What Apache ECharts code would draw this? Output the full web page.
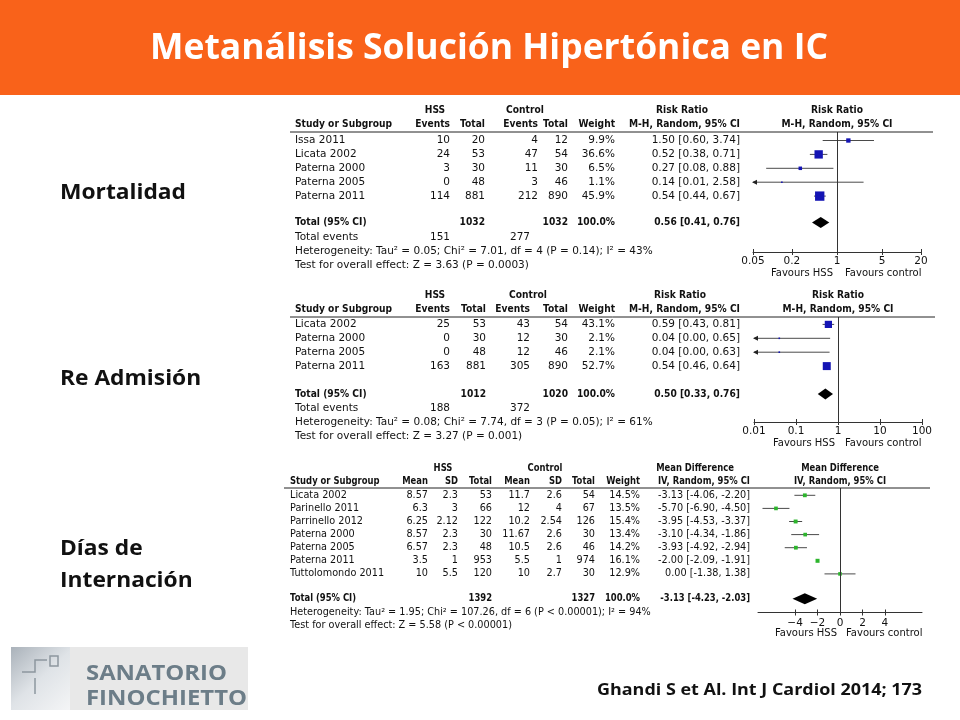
<!DOCTYPE html>
<html><head><meta charset="utf-8">
<script src="https://cdn.jsdelivr.net/npm/echarts@6/dist/echarts.min.js"></script>
<style>html,body{margin:0;padding:0;background:#fff}#c{width:960px;height:720px}</style>
</head><body><div id="c"></div>
<script>
// ---------------- DATA ----------------
const titleText = 'Metanálisis Solución Hipertónica en IC';
const sectionLabels = ['Mortalidad', 'Re Admisión', 'Días de', 'Internación'];
const citationText = 'Ghandi S et Al. Int J Cardiol 2014; 173';
const logoLines = ['SANATORIO', 'FINOCHIETTO'];

// Plot 1: Mortalidad (Risk Ratio)
const studies1 = ['Issa 2011', 'Licata 2002', 'Paterna 2000', 'Paterna 2005', 'Paterna 2011'];
const hssEvents1 = [10, 24, 3, 0, 114];
const hssTotal1 = [20, 53, 30, 48, 881];
const ctrlEvents1 = [4, 47, 11, 3, 212];
const ctrlTotal1 = [12, 54, 30, 46, 890];
const weight1 = [9.9, 36.6, 6.5, 1.1, 45.9];
const est1 = [1.50, 0.52, 0.27, 0.14, 0.54];
const lo1 = [0.60, 0.38, 0.08, 0.01, 0.44];
const hi1 = [3.74, 0.71, 0.88, 2.58, 0.67];
const totalN1 = [1032, 1032];
const totalEst1 = [0.56, 0.41, 0.76];
const totalEvents1 = [151, 277];
const het1 = 'Heterogeneity: Tau² = 0.05; Chi² = 7.01, df = 4 (P = 0.14); I² = 43%';
const test1 = 'Test for overall effect: Z = 3.63 (P = 0.0003)';
const ticks1 = [0.05, 0.2, 1, 5, 20];

// Plot 2: Re Admisión (Risk Ratio)
const studies2 = ['Licata 2002', 'Paterna 2000', 'Paterna 2005', 'Paterna 2011'];
const hssEvents2 = [25, 0, 0, 163];
const hssTotal2 = [53, 30, 48, 881];
const ctrlEvents2 = [43, 12, 12, 305];
const ctrlTotal2 = [54, 30, 46, 890];
const weight2 = [43.1, 2.1, 2.1, 52.7];
const est2 = [0.59, 0.04, 0.04, 0.54];
const lo2 = [0.43, 0.00, 0.00, 0.46];
const hi2 = [0.81, 0.65, 0.63, 0.64];
const totalN2 = [1012, 1020];
const totalEst2 = [0.50, 0.33, 0.76];
const totalEvents2 = [188, 372];
const het2 = 'Heterogeneity: Tau² = 0.08; Chi² = 7.74, df = 3 (P = 0.05); I² = 61%';
const test2 = 'Test for overall effect: Z = 3.27 (P = 0.001)';
const ticks2 = [0.01, 0.1, 1, 10, 100];

// Plot 3: Días de Internación (Mean Difference)
const studies3 = ['Licata 2002', 'Parinello 2011', 'Parrinello 2012', 'Paterna 2000', 'Paterna 2005', 'Paterna 2011', 'Tuttolomondo 2011'];
const hssMean3 = [8.57, 6.3, 6.25, 8.57, 6.57, 3.5, 10];
const hssSD3 = [2.3, 3, 2.12, 2.3, 2.3, 1, 5.5];
const hssTotal3 = [53, 66, 122, 30, 48, 953, 120];
const ctrlMean3 = [11.7, 12, 10.2, 11.67, 10.5, 5.5, 10];
const ctrlSD3 = [2.6, 4, 2.54, 2.6, 2.6, 1, 2.7];
const ctrlTotal3 = [54, 67, 126, 30, 46, 974, 30];
const weight3 = [14.5, 13.5, 15.4, 13.4, 14.2, 16.1, 12.9];
const est3 = [-3.13, -5.70, -3.95, -3.10, -3.93, -2.00, 0.00];
const lo3 = [-4.06, -6.90, -4.53, -4.34, -4.92, -2.09, -1.38];
const hi3 = [-2.20, -4.50, -3.37, -1.86, -2.94, -1.91, 1.38];
const totalN3 = [1392, 1327];
const totalEst3 = [-3.13, -4.23, -2.03];
const het3 = 'Heterogeneity: Tau² = 1.95; Chi² = 107.26, df = 6 (P < 0.00001); I² = 94%';
const test3 = 'Test for overall effect: Z = 5.58 (P < 0.00001)';
const ticks3 = [-4, -2, 0, 2, 4];

// ---------------- LAYOUT ----------------
const TF = '"DejaVu Sans", sans-serif';
const HF = '"Open Sans", sans-serif';
const BLUE = '#1414b4', GREEN = '#2db52d', CIC = '#4a4a4a', AX = '#333';

const L1 = {fs: 10.5, rowY0: 140.5, dy: 13.9, totalRow: 5.9, top: 132, axisY: 252, left: 753, width: 168,
  min: Math.log10(0.05), max: Math.log10(20), lineX: [290, 933], h1: 110, h2: 124,
  studyX: 295, cols: [450, 485, 538, 568, 615, 740], evCols: [450, 530], evY: 237, hetY: 251, testY: 265,
  hdr: [[435, 'HSS'], [525, 'Control'], [682, 'Risk Ratio']], plotX: 837, favY: 273, favL: 833, favR: 845, margin: 4, k: 1.38};
const L2 = {fs: 10.5, rowY0: 324.4, dy: 13.9, totalRow: 5.0, top: 317, axisY: 422, left: 754, width: 168,
  min: -2, max: 2, lineX: [290, 935], h1: 295, h2: 309,
  studyX: 295, cols: [450, 486, 530, 568, 615, 740], evCols: [450, 530], evY: 408.5, hetY: 422.5, testY: 436.5,
  hdr: [[435, 'HSS'], [528, 'Control'], [680, 'Risk Ratio']], plotX: 838, favY: 443, favL: 835, favR: 845, margin: 4, k: 1.1};
const L3 = {fs: 9.7, rowY0: 495.3, dy: 13.1, totalRow: 7.9, top: 488, axisY: 612.5, left: 758, width: 164,
  min: -7.3, max: 7.3, lineX: [284, 930], h1: 468, h2: 481,
  studyX: 290, cols: [428, 458, 492, 530, 562, 595, 640, 750], hetY: 612.3, testY: 625.8,
  hdr: [[443, 'HSS'], [545, 'Control'], [695, 'Mean Difference']], plotX: 840, favY: 633.5, favL: 837, favR: 846, margin: 5, k: 1.0};

// ---------------- HELPERS ----------------
const mctx = document.createElement('canvas').getContext('2d');
function textW(font, s) { mctx.font = font; return mctx.measureText(s).width; }
const G = [];
function T(x, y, text, o = {}) {
  const font = (o.bold ? 'bold ' : '') + (o.size || 10.5) + 'px ' + (o.family || TF);
  let sx = o.sx || 1;
  if (o.fitW) sx = o.fitW / textW(font, text);
  if (o.bold && !o.family && !o.fitW) sx = 0.87;
  G.push({type: 'text', x, y, scaleX: sx, silent: true, z: 10,
    style: {text, fill: o.fill || '#111', font, align: o.align || 'left', verticalAlign: 'middle'}});
}
function HL(x1, x2, y, c) { G.push({type: 'line', silent: true, z: 9, shape: {x1, y1: y, x2, y2: y}, style: {stroke: c || '#222', lineWidth: 1}}); }
const f2 = v => v.toFixed(2);
const ciTxt = (e, l, h) => f2(e) + ' [' + f2(l) + ', ' + f2(h) + ']';

// ---------------- SLIDE DECOR ----------------
G.push({type: 'rect', silent: true, z: 0, shape: {x: 0, y: 0, width: 960, height: 95}, style: {fill: '#F9621A'}});
T(489, 49, titleText, {family: HF, bold: 1, size: 35, fill: '#fff', align: 'center', fitW: 678});
const secScale = 126 / textW('bold 22px ' + HF, sectionLabels[0]);
T(60, 193, sectionLabels[0], {family: HF, bold: 1, size: 22, sx: secScale});
T(60, 379, sectionLabels[1], {family: HF, bold: 1, size: 22, sx: secScale});
T(60, 549, sectionLabels[2], {family: HF, bold: 1, size: 22, sx: secScale});
T(60, 581, sectionLabels[3], {family: HF, bold: 1, size: 22, sx: secScale});
T(597, 690, citationText, {family: HF, bold: 1, size: 16, fitW: 325});
// logo
G.push({type: 'rect', silent: true, shape: {x: 11, y: 647, width: 237, height: 63}, style: {fill: '#e8e8e8'}});
G.push({type: 'rect', silent: true, shape: {x: 11, y: 647, width: 59, height: 63},
  style: {fill: {type: 'linear', x: 0, y: 0, x2: 1, y2: 1, colorStops: [{offset: 0, color: '#aab2ba'}, {offset: 0.5, color: '#dfe3e7'}, {offset: 1, color: '#f4f5f6'}]}}});
G.push({type: 'polyline', silent: true, shape: {points: [[22, 672], [35, 672], [35, 660], [47, 660]]}, style: {stroke: '#8d979f', lineWidth: 1.5, fill: null}});
G.push({type: 'line', silent: true, shape: {x1: 35, y1: 678, x2: 35, y2: 694}, style: {stroke: '#8d979f', lineWidth: 1.5}});
G.push({type: 'rect', silent: true, shape: {x: 50, y: 656, width: 8, height: 10}, style: {stroke: '#8d979f', lineWidth: 1.5, fill: null}});
T(86, 674, logoLines[0], {family: HF, bold: 1, size: 21, fill: '#6c7d88', fitW: 141});
T(86, 699, logoLines[1], {family: HF, bold: 1, size: 21, fill: '#6c7d88', fitW: 161});

// ---------------- TABLES ----------------
function rrTable(L, D) {
  const s = L.fs;
  L.hdr.forEach(h => T(h[0], L.h1, h[1], {bold: 1, align: 'center', size: s}));
  T(L.plotX, L.h1, 'Risk Ratio', {bold: 1, align: 'center', size: s});
  T(L.studyX, L.h2, 'Study or Subgroup', {bold: 1, size: s});
  ['Events', 'Total', 'Events', 'Total', 'Weight', 'M-H, Random, 95% CI'].forEach((t, j) => T(L.cols[j], L.h2, t, {bold: 1, align: 'right', size: s}));
  T(L.plotX, L.h2, 'M-H, Random, 95% CI', {bold: 1, align: 'center', size: s});
  HL(L.lineX[0], L.lineX[1], L.top);
  D.studies.forEach((st, i) => {
    const y = L.rowY0 + i * L.dy;
    T(L.studyX, y, st, {size: s});
    [D.he[i], D.ht[i], D.ce[i], D.ct[i], D.w[i].toFixed(1) + '%', ciTxt(D.est[i], D.lo[i], D.hi[i])]
      .forEach((v, j) => T(L.cols[j], y, String(v), {align: 'right', size: s}));
  });
  const ty = L.rowY0 + L.totalRow * L.dy;
  T(L.studyX, ty, 'Total (95% CI)', {bold: 1, size: s});
  T(L.cols[1], ty, String(D.tn[0]), {bold: 1, align: 'right', size: s});
  T(L.cols[3], ty, String(D.tn[1]), {bold: 1, align: 'right', size: s});
  T(L.cols[4], ty, '100.0%', {bold: 1, align: 'right', size: s});
  T(L.cols[5], ty, ciTxt(D.tot[0], D.tot[1], D.tot[2]), {bold: 1, align: 'right', size: s});
  T(L.studyX, L.evY, 'Total events', {size: s});
  T(L.evCols[0], L.evY, String(D.tev[0]), {align: 'right', size: s});
  T(L.evCols[1], L.evY, String(D.tev[1]), {align: 'right', size: s});
  T(L.studyX, L.hetY, D.het, {size: s});
  T(L.studyX, L.testY, D.test, {size: s});
  T(L.favL, L.favY, 'Favours HSS', {align: 'right', size: 10});
  T(L.favR, L.favY, 'Favours control', {size: 10});
}
function mdTable(L, D) {
  const s = L.fs;
  L.hdr.forEach(h => T(h[0], L.h1, h[1], {bold: 1, align: 'center', size: s}));
  T(L.plotX, L.h1, 'Mean Difference', {bold: 1, align: 'center', size: s});
  T(L.studyX, L.h2, 'Study or Subgroup', {bold: 1, size: s});
  ['Mean', 'SD', 'Total', 'Mean', 'SD', 'Total', 'Weight', 'IV, Random, 95% CI'].forEach((t, j) => T(L.cols[j], L.h2, t, {bold: 1, align: 'right', size: s}));
  T(L.plotX, L.h2, 'IV, Random, 95% CI', {bold: 1, align: 'center', size: s});
  HL(L.lineX[0], L.lineX[1], L.top);
  D.studies.forEach((st, i) => {
    const y = L.rowY0 + i * L.dy;
    T(L.studyX, y, st, {size: s});
    [D.hm[i], D.hs[i], D.ht[i], D.cm[i], D.cs[i], D.ct[i], D.w[i].toFixed(1) + '%', ciTxt(D.est[i], D.lo[i], D.hi[i])]
      .forEach((v, j) => T(L.cols[j], y, String(v), {align: 'right', size: s}));
  });
  const ty = L.rowY0 + L.totalRow * L.dy;
  T(L.studyX, ty, 'Total (95% CI)', {bold: 1, size: s});
  T(L.cols[2], ty, String(D.tn[0]), {bold: 1, align: 'right', size: s});
  T(L.cols[5], ty, String(D.tn[1]), {bold: 1, align: 'right', size: s});
  T(L.cols[6], ty, '100.0%', {bold: 1, align: 'right', size: s});
  T(L.cols[7], ty, ciTxt(D.tot[0], D.tot[1], D.tot[2]), {bold: 1, align: 'right', size: s});
  T(L.studyX, L.hetY, D.het, {size: s});
  T(L.studyX, L.testY, D.test, {size: s});
  T(L.favL, L.favY, 'Favours HSS', {align: 'right', size: 10});
  T(L.favR, L.favY, 'Favours control', {size: 10});
}

const D1 = {studies: studies1, he: hssEvents1, ht: hssTotal1, ce: ctrlEvents1, ct: ctrlTotal1, w: weight1, est: est1, lo: lo1, hi: hi1,
  tn: totalN1, tot: totalEst1, tev: totalEvents1, het: het1, test: test1, ticks: ticks1, tf: Math.log10, ref: 1};
const D2 = {studies: studies2, he: hssEvents2, ht: hssTotal2, ce: ctrlEvents2, ct: ctrlTotal2, w: weight2, est: est2, lo: lo2, hi: hi2,
  tn: totalN2, tot: totalEst2, tev: totalEvents2, het: het2, test: test2, ticks: ticks2, tf: Math.log10, ref: 1};
const D3 = {studies: studies3, hm: hssMean3, hs: hssSD3, ht: hssTotal3, cm: ctrlMean3, cs: ctrlSD3, ct: ctrlTotal3, w: weight3, est: est3, lo: lo3, hi: hi3,
  tn: totalN3, tot: totalEst3, het: het3, test: test3, ticks: ticks3, tf: v => v, ref: 0};
rrTable(L1, D1); rrTable(L2, D2); mdTable(L3, D3);

// ---------------- FOREST PLOTS ----------------
const grids = [], xAxes = [], yAxes = [], series = [];
function ciRender(params, api) {
  const a = api.coord([api.value(0), api.value(2)]), b = api.coord([api.value(1), api.value(2)]);
  const ch = [{type: 'line', shape: {x1: a[0], y1: a[1], x2: b[0], y2: b[1]}, style: {stroke: CIC, lineWidth: 1}}];
  if (api.value(3)) ch.push({type: 'polygon', shape: {points: [[a[0] - 1, a[1]], [a[0] + 4, a[1] - 2.5], [a[0] + 4, a[1] + 2.5]]}, style: {fill: '#222'}});
  return {type: 'group', children: ch};
}
function diamondRender(params, api) {
  const r = api.value(3);
  const a = api.coord([api.value(0), r]), b = api.coord([api.value(1), r]), c = api.coord([api.value(2), r]);
  return {type: 'polygon', shape: {points: [[a[0], a[1]], [c[0], c[1] - 5.5], [b[0], b[1]], [c[0], c[1] + 5.5]]}, style: {fill: '#000'}};
}
function forest(gi, L, D, color, fmt) {
  const h = L.axisY - L.top;
  const tk = D.ticks.map(D.tf);
  grids.push({left: L.left, top: L.top, width: L.width, height: h, outerBoundsMode: 'none', containLabel: false});
  xAxes.push({type: 'value', gridIndex: gi, min: L.min, max: L.max, position: 'bottom',
    axisLine: {show: true, onZero: false, lineStyle: {color: AX, width: 1}},
    axisTick: {show: true, customValues: tk, length: 3, lineStyle: {color: AX}},
    axisLabel: {show: true, customValues: tk, formatter: fmt, margin: L.margin, fontSize: 10.5, fontFamily: 'DejaVu Sans', color: '#111'},
    splitLine: {show: false}});
  xAxes.push({type: 'value', gridIndex: gi, min: L.min, max: L.max, position: 'top', offset: -h,
    axisLine: {show: false, onZero: false}, axisTick: {show: true, customValues: tk, length: 3, lineStyle: {color: AX}},
    axisLabel: {show: false}, splitLine: {show: false}});
  yAxes.push({type: 'value', gridIndex: gi, inverse: true, min: (L.top - L.rowY0) / L.dy, max: (L.axisY - L.rowY0) / L.dy, show: false});
  const xi = gi * 2;
  series.push({type: 'custom', xAxisIndex: xi, yAxisIndex: gi, renderItem: ciRender, silent: true, z: 2, clip: false,
    data: D.est.map((e, i) => { const l = D.tf(D.lo[i]); return [Math.max(l, L.min), Math.min(D.tf(D.hi[i]), L.max), i, l < L.min ? 1 : 0]; })});
  series.push({type: 'scatter', xAxisIndex: xi, yAxisIndex: gi, silent: true, z: 3, symbol: 'rect',
    symbolSize: (v, p) => Math.max(1.6, L.k * Math.sqrt(D.w[p.dataIndex])),
    itemStyle: {color, opacity: 1},
    data: D.est.map((e, i) => [D.tf(e), i]),
    markLine: {silent: true, symbol: 'none', label: {show: false}, lineStyle: {color: AX, width: 1, type: 'solid'}, data: [{xAxis: D.tf(D.ref)}]}});
  series.push({type: 'custom', xAxisIndex: xi, yAxisIndex: gi, renderItem: diamondRender, silent: true, z: 3, clip: false,
    data: [[D.tf(D.tot[1]), D.tf(D.tot[2]), D.tf(D.tot[0]), L.totalRow]]});
}
const logFmt = v => String(+Math.pow(10, v).toPrecision(2));
forest(0, L1, D1, BLUE, logFmt);
forest(1, L2, D2, BLUE, logFmt);
forest(2, L3, D3, GREEN, v => String(v).replace('-', '\u2212'));

const chart = echarts.init(document.getElementById('c'), null, {renderer: 'canvas'});
chart.setOption({
  animation: false,
  backgroundColor: '#fff',
  grid: grids, xAxis: xAxes, yAxis: yAxes, series,
  graphic: {elements: G}
});
</script></body></html>
